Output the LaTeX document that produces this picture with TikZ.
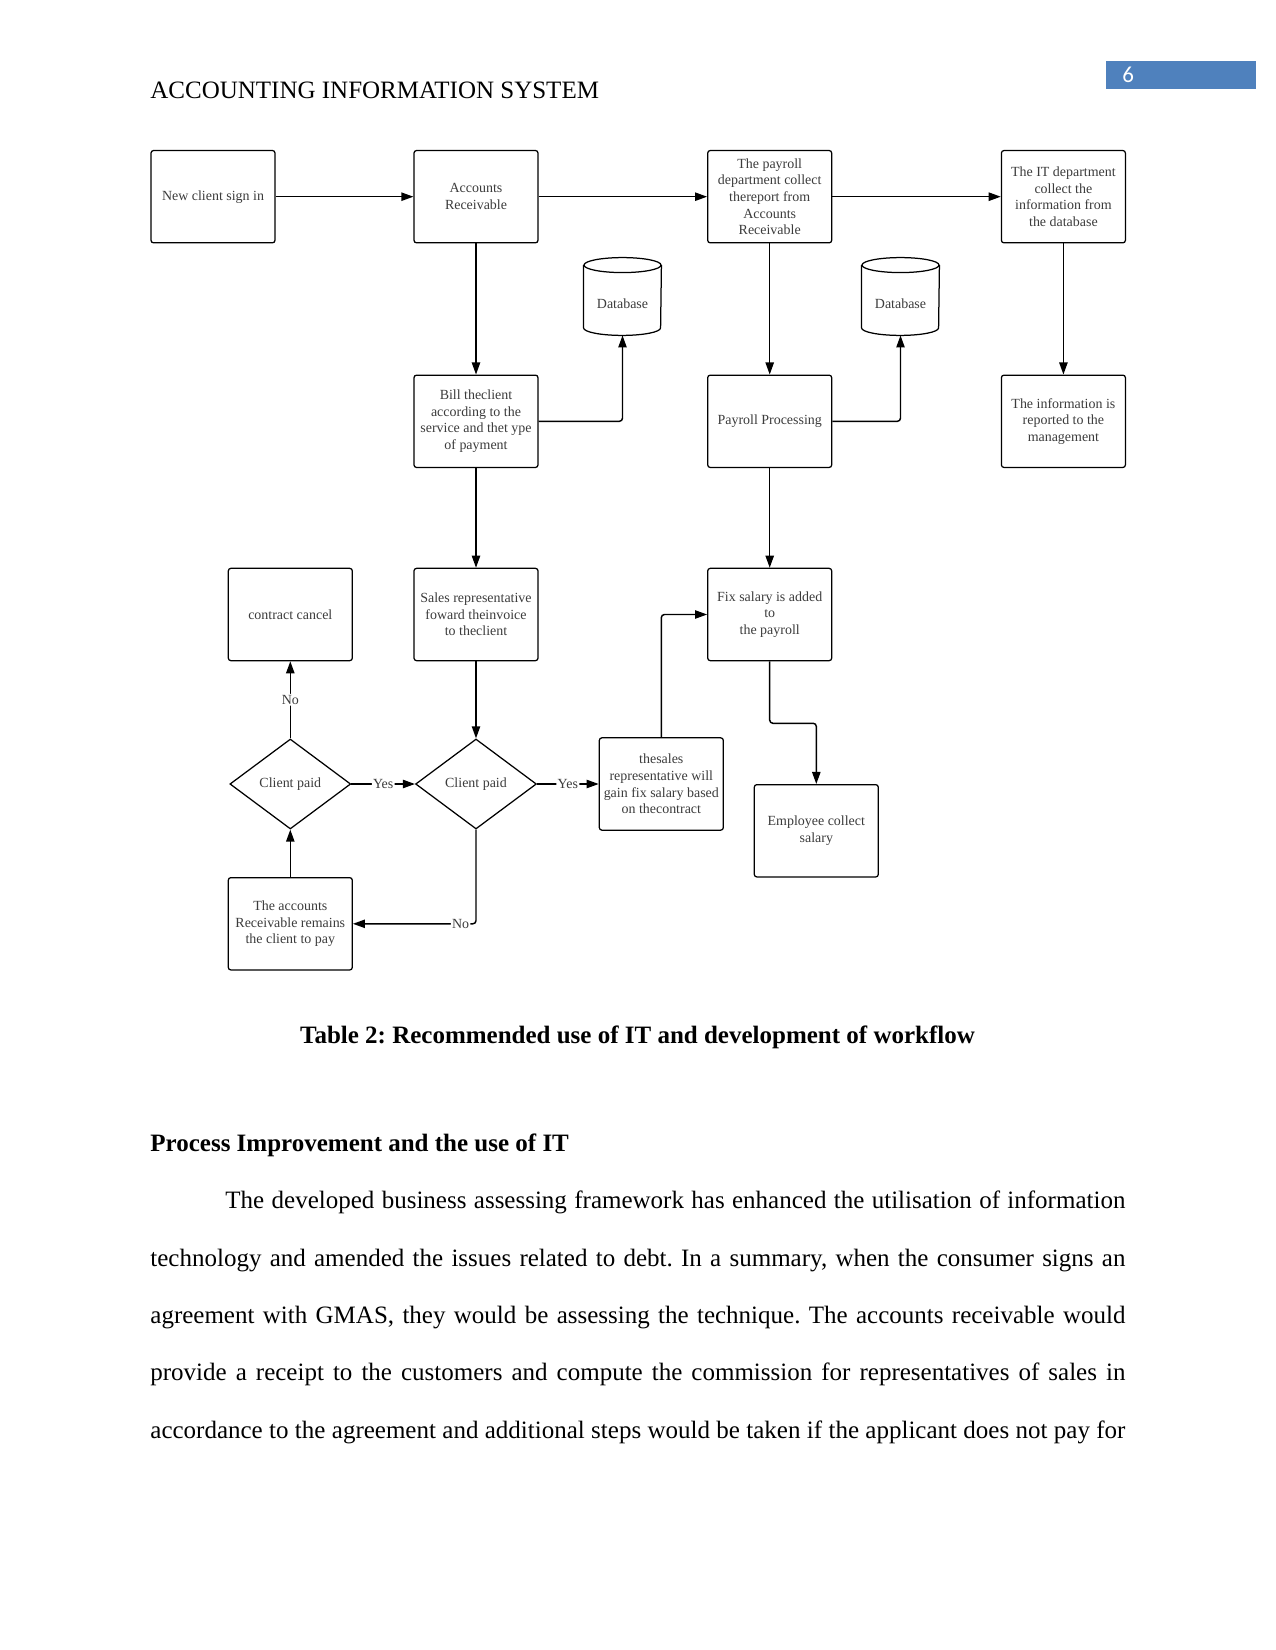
\documentclass[tikz,border=0pt]{standalone}
\usepackage{fontspec}
\setmainfont{Liberation Serif}
\newfontfamily\boxfont{Liberation Serif}
\newfontfamily\numfont{Carlito}
\usetikzlibrary{arrows.meta,shapes.geometric}
\definecolor{pgblue}{HTML}{4F81BD}
\definecolor{boxtext}{HTML}{3C3C3C}
\frenchspacing
\begin{document}
\begin{tikzpicture}[x=0.48pt,y=-0.48pt,
  every node/.style={inner sep=0pt},
  bfont/.style={font=\boxfont\fontsize{6.7}{8}\selectfont, text=boxtext},
  box/.style={bfont, draw=black, line width=0.6pt, rounded corners=1.2pt,
    minimum width=59.5pt, minimum height=44.3pt, align=center, inner sep=1pt},
  dia/.style={bfont, draw=black, line width=0.6pt, diamond, aspect=1.33,
    minimum width=58pt, minimum height=43.2pt, inner sep=0.5pt},
  dbnode/.style={bfont, minimum width=36.96pt, minimum height=29.76pt},
  dbline/.style={draw=black, line width=0.6pt},
  conn/.style={line width=0.7pt, rounded corners=1.5pt,
    -{Triangle[length=5.8pt,width=4pt]}},
  lab/.style={bfont, fill=white, inner sep=0.6pt},
  body/.style={font=\frenchspacing\fontsize{12}{14}\selectfont, anchor=base west},
  bodyb/.style={font=\frenchspacing\bfseries\fontsize{12}{14}\selectfont}]
\fill[white] (0,0) rectangle (1275,1650);
\useasboundingbox (0,0) rectangle (1275,1650);

% header
\node[body] (hdr) at (150,98.3) {ACCOUNTING INFORMATION SYSTEM};
\node[fill=pgblue, minimum width=71.9pt, minimum height=13.3pt, anchor=north west] (pgbox) at (1106,61) {};
\node[anchor=base west, text=white, font=\numfont\fontsize{11}{13}\selectfont] (pgnum) at (1122,82.3) {6};

% row 1
\node[box] (n1) at (213,196.7) {New client sign in};
\node[box] (ar) at (476,196.7) {Accounts\\Receivable};
\node[box] (pd) at (769.7,196.7) {The payroll\\department collect\\thereport from\\Accounts\\Receivable};
\node[box] (it) at (1063.4,196.7) {The IT department\\collect the\\information from\\the database};

% databases
\node[dbnode] (db1) at (622.5,304) {Database};
\node[dbnode] (db2) at (900.5,304) {Database};
\foreach \d in {db1,db2}{
  \draw[dbline] ([yshift=3.6pt]\d.north) ellipse [x radius=18.48pt, y radius=3.6pt];
  \draw[dbline] ([yshift=3.6pt]\d.north west) -- ([yshift=3.6pt]\d.south west)
     arc[start angle=180, end angle=360, x radius=18.48pt, y radius=3.6pt]
     -- ([yshift=3.6pt]\d.north east);
}

% row 2
\node[box] (bill) at (476,421.3) {Bill theclient\\according to the\\service and thet ype\\of payment};
\node[box] (pp) at (769.7,421.3) {Payroll Processing};
\node[box] (info) at (1063.4,421.3) {The information is\\reported to the\\management};

% row 3
\node[box] (cc) at (290.3,614.5) {contract cancel};
\node[box] (sales) at (476,614.5) {Sales representative\\foward theinvoice\\to theclient};
\node[box] (fix) at (769.7,614.5) {Fix salary is added\\to\\the payroll};

% row 4
\node[dia] (d1) at (290.3,784) {Client paid};
\node[dia] (d2) at (476,784) {Client paid};
\node[box] (srep) at (661.3,784) {thesales\\representative will\\gain fix salary based\\on thecontract};
\node[box] (emp) at (816.3,830.8) {Employee collect\\salary};
\node[box] (rem) at (290.3,923.8) {The accounts\\Receivable remains\\the client to pay};

% connectors
\draw[conn] (n1) -- (ar);
\draw[conn] (ar) -- (pd);
\draw[conn] (pd) -- (it);
\draw[conn] (ar) -- (bill);
\draw[conn] (pd) -- (pp);
\draw[conn] (it) -- (info);
\draw[conn] (bill.east) -| (db1.south);
\draw[conn] (pp.east) -| (db2.south);
\draw[conn] (bill) -- (sales);
\draw[conn] (pp) -- (fix);
\draw[conn] (sales.south) -- (d2.north);
\draw[conn] (d1.north) -- node[lab]{No} (cc.south);
\draw[conn] (d1.east) -- node[lab]{Yes} (d2.west);
\draw[conn] (d2.east) -- node[lab]{Yes} (srep.west);
\draw[conn] (d2.south) |- node[lab, pos=0.5625]{No} (rem.east);
\draw[conn] (rem.north) -- (d1.south);
\draw[conn] (srep.north) |- (fix.west);
\draw[conn] (fix.south) -- ++(0,62) -| (emp.north);

% caption and text
\node[bodyb, anchor=base] (cap) at (637.5,1043.3) {Table 2: Recommended use of IT and development of workflow};
\node[bodyb, anchor=base west] (head) at (150,1151) {Process Improvement and the use of IT};
\node[body] (l1) at (150,1208.3) {\hbox to 468pt{\hskip 36pt The developed business assessing framework has enhanced the utilisation of information}};
\node[body] (l2) at (150,1266) {\hbox to 468pt{technology and amended the issues related to debt. In a summary, when the consumer signs an}};
\node[body] (l3) at (150,1323.3) {\hbox to 468pt{agreement with GMAS, they would be assessing the technique. The accounts receivable would}};
\node[body] (l4) at (150,1380.7) {\hbox to 468pt{provide a receipt to the customers and compute the commission for representatives of sales in}};
\node[body] (l5) at (150,1438.3) {\hbox to 468pt{accordance to the agreement and additional steps would be taken if the applicant does not pay for}};
\end{tikzpicture}
\end{document}
